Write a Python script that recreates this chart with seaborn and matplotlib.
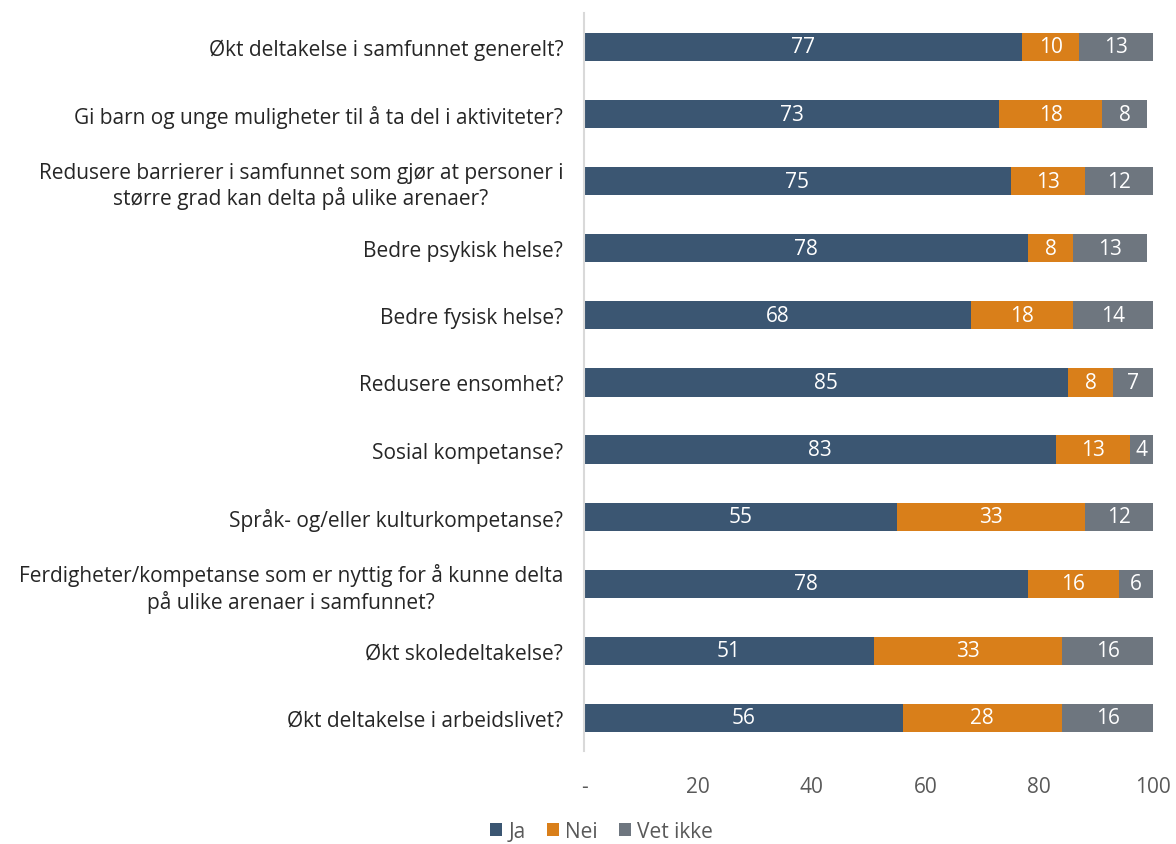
import pandas as pd
import matplotlib.pyplot as plt
import seaborn as sns

# --- DATA ---
questions = [
    "Økt deltakelse i samfunnet generelt?",
    "Gi barn og unge muligheter til å ta del i aktiviteter?",
    "Redusere barrierer i samfunnet som gjør at personer i\nstørre grad kan delta på ulike arenaer?",
    "Bedre psykisk helse?",
    "Bedre fysisk helse?",
    "Redusere ensomhet?",
    "Sosial kompetanse?",
    "Språk- og/eller kulturkompetanse?",
    "Ferdigheter/kompetanse som er nyttig for å kunne delta\npå ulike arenaer i samfunnet?",
    "Økt skoledeltakelse?",
    "Økt deltakelse i arbeidslivet?",
]
ja = [77, 73, 75, 78, 68, 85, 83, 55, 78, 51, 56]
nei = [10, 18, 13, 8, 18, 8, 13, 33, 16, 33, 28]
vet_ikke = [13, 8, 12, 13, 14, 7, 4, 12, 6, 16, 16]
series = ["Ja", "Nei", "Vet ikke"]
colors = {"Ja": "#3B5672", "Nei": "#D97F1A", "Vet ikke": "#6E767F"}
x_ticks = [0, 20, 40, 60, 80, 100]
x_ticklabels = ["-", "20", "40", "60", "80", "100"]

df = pd.DataFrame({"question": questions, "Ja": ja, "Nei": nei, "Vet ikke": vet_ikke})
df["cum_ja"] = df["Ja"]
df["cum_nei"] = df["Ja"] + df["Nei"]
df["cum_vet"] = df["Ja"] + df["Nei"] + df["Vet ikke"]

sns.set_theme(style="white")
plt.rcParams["font.family"] = ["Open Sans", "DejaVu Sans"]
fs = 15

fig = plt.figure(figsize=(11.76, 8.45), dpi=100)
ax = fig.add_axes([0.4966, 0.1095, 0.4839, 0.8735])

# stacked bars by overlaying cumulative totals
for col, name in [("cum_vet", "Vet ikke"), ("cum_nei", "Nei"), ("cum_ja", "Ja")]:
    sns.barplot(data=df, x=col, y="question", orient="h", color=colors[name],
                saturation=1, width=0.42, linewidth=0, ax=ax, label=name)

handles, labels = ax.get_legend_handles_labels()
if ax.get_legend() is not None:
    ax.get_legend().remove()

# value labels
for i, row in df.iterrows():
    starts = [0, row["cum_ja"], row["cum_nei"]]
    for s, name in zip(starts, series):
        v = row[name]
        ax.text(s + v / 2, i, f"{v}", ha="center", va="center",
                color="white", fontsize=fs)

ax.set_xlim(0, 100)
ax.set_ylim(10.5, -0.5)
ax.set_xticks(x_ticks)
ax.set_xticklabels(x_ticklabels)
ax.set_xlabel("")
ax.set_ylabel("")
ax.tick_params(axis="x", colors="#595959", labelsize=fs, length=0, pad=18)
ax.tick_params(axis="y", colors="#262626", labelsize=fs, length=0, pad=15)
for lbl in ax.get_yticklabels():
    lbl.set_horizontalalignment("right")
    lbl.set_multialignment("center")
for s in ["top", "right", "bottom"]:
    ax.spines[s].set_visible(False)
ax.spines["left"].set_color("#D9D9D9")
ax.spines["left"].set_linewidth(1.5)

order = [labels.index(n) for n in series]
fig.legend([handles[k] for k in order], series, loc="lower center",
           bbox_to_anchor=(0.5115, -0.02), ncol=3, frameon=False,
           fontsize=fs, handlelength=0.6, handleheight=0.6, handletextpad=0.3,
           columnspacing=1.0, labelcolor="#595959")

plt.savefig("out.png", dpi=100)
